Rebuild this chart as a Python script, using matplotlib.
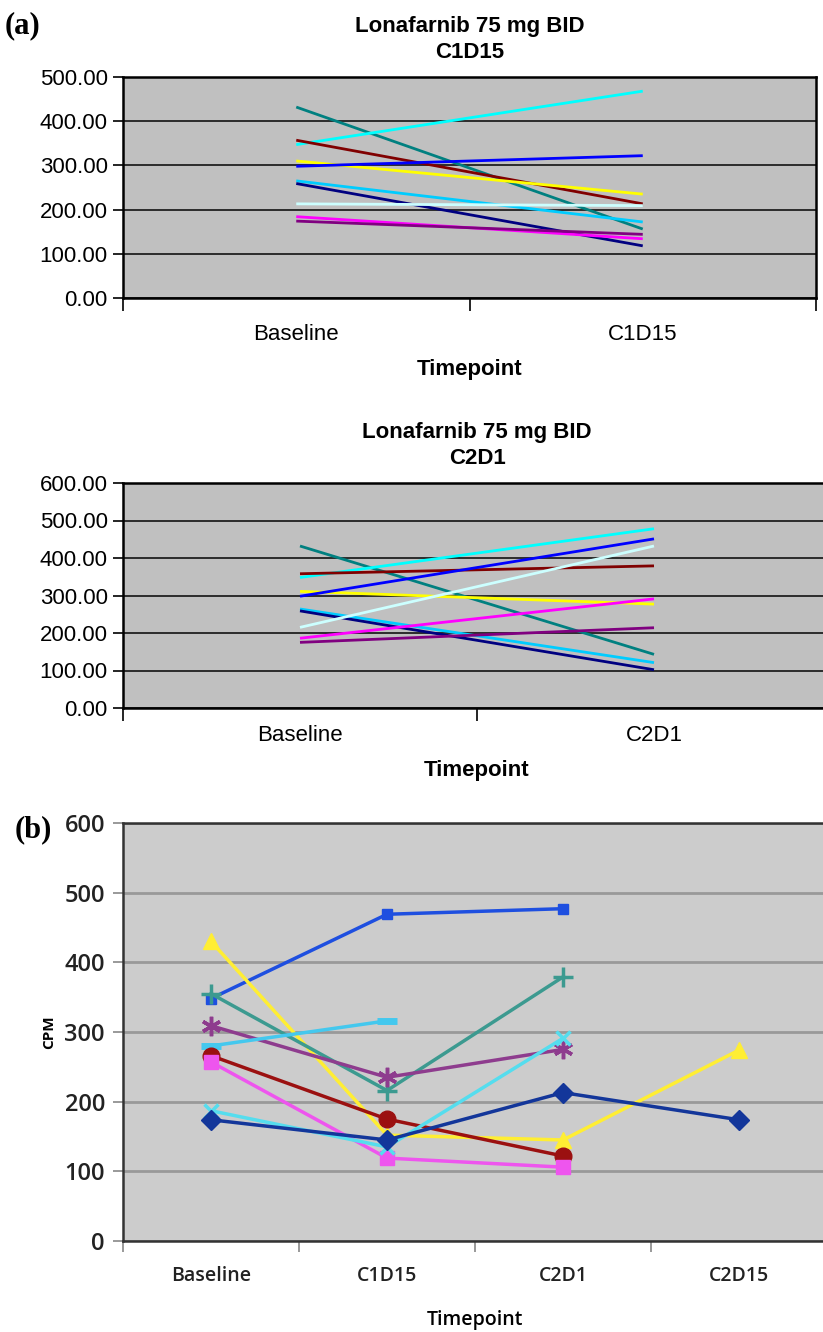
import numpy as np
import matplotlib.pyplot as plt
from matplotlib.ticker import FixedLocator, NullFormatter

nan = np.nan

# panel (a) top: Baseline -> C1D15
a1_cats = ['Baseline', 'C1D15']
a1_base = [432, 347, 357, 310, 298, 265, 259, 213, 184, 174]
a1_end = [156, 468, 213, 235, 322, 172, 118, 209, 134, 144]

# panel (a) bottom: Baseline -> C2D1
a2_cats = ['Baseline', 'C2D1']
a2_base = [432, 348, 358, 311, 298, 264, 259, 215, 186, 175]
a2_end = [143, 478, 379, 277, 451, 121, 102, 432, 291, 214]

a_colors = ['#008080', '#00FFFF', '#800000', '#FFFF00', '#0000FF',
            '#00CCFF', '#000080', '#CCFFFF', '#FF00FF', '#800080']

# panel (b)
b_cats = ['Baseline', 'C1D15', 'C2D1', 'C2D15']
b_blue = [348, 469, 477, nan]
b_yellow = [430, 152, 145, 274]
b_teal = [355, 216, 379, nan]
b_purple = [309, 235, 275, nan]
b_lightblue = [280, 316, nan, nan]
b_darkred = [266, 175, 122, nan]
b_magenta = [257, 119, 106, nan]
b_cyan = [187, 135, 291, nan]
b_navy = [174, 145, 213, 174]

W, H = 823, 1332
fig = plt.figure(figsize=(W / 100, H / 100), dpi=100)


def rect(x0, y0, x1, y1):
    return [x0 / W, 1 - y1 / H, (x1 - x0) / W, (y1 - y0) / H]


def panel_a(ax, cats, base, end, ymax, title, tpad, tipad):
    ax.set_facecolor('#C0C0C0')
    x = np.arange(len(cats))
    for b, e, c in zip(base, end, a_colors):
        ax.plot(x, [b, e], color=c, lw=2.0, solid_capstyle='butt')
    ax.set_xlim(-0.5, len(cats) - 0.5)
    ax.set_ylim(0, ymax)
    ax.set_yticks(np.arange(0, ymax + 1, 100))
    ax.set_yticklabels([f'{v:.2f}' for v in np.arange(0, ymax + 1, 100)],
                       fontsize=16, family='Liberation Sans')
    ax.yaxis.grid(True, color='#202020', lw=1.3)
    ax.set_axisbelow(True)
    ax.xaxis.set_major_locator(FixedLocator([-0.5, 0.5, 1.5]))
    ax.xaxis.set_major_formatter(NullFormatter())
    ax.xaxis.set_minor_locator(FixedLocator(x))
    ax.set_xticklabels(cats, minor=True, fontsize=16, family='Liberation Sans')
    ax.tick_params(axis='x', which='minor', length=0, pad=tpad)
    ax.tick_params(axis='x', which='major', length=9, width=1.2, direction='out')
    ax.tick_params(axis='y', length=7, width=1.2, direction='out', pad=4)
    for s in ax.spines.values():
        s.set_linewidth(1.8)
        s.set_color('black')
    ax.set_xlabel('Timepoint', fontsize=16, fontweight='bold',
                  family='Liberation Sans', labelpad=10)
    ax.set_title(title, fontsize=16, fontweight='bold',
                 family='Liberation Sans', pad=tipad, linespacing=1.3)


ax1 = fig.add_axes(rect(123, 77, 816, 298))
panel_a(ax1, a1_cats, a1_base, a1_end, 500, 'Lonafarnib 75 mg BID\nC1D15', 19, 14)

ax2 = fig.add_axes(rect(123, 483, 831, 708))
panel_a(ax2, a2_cats, a2_base, a2_end, 600, 'Lonafarnib 75 mg BID\nC2D1', 12, 14)

# panel (b)
ax3 = fig.add_axes(rect(123, 823, 827, 1241))
ax3.set_facecolor('#CCCCCC')
xb = np.arange(len(b_cats))
series = [
    (b_blue, '#1E4FE0', 's', 7, 1),
    (b_yellow, '#FFEE33', '^', 12, 1),
    (b_teal, '#3C9A90', '+', 14, 2.5),
    (b_purple, '#8E3C8E', (6, 2, 0), 14, 2.5),
    (b_lightblue, '#44C8EE', '_', 14, 5),
    (b_darkred, '#9B1010', 'o', 12, 1),
    (b_magenta, '#EE55EE', 's', 10, 1),
    (b_cyan, '#55DDEE', 'x', 10, 2.5),
    (b_navy, '#13369A', 'D', 10, 1),
]
for vals, c, m, ms, mew in series:
    ax3.plot(xb, vals, color=c, lw=2.5, marker=m, ms=ms, mew=mew,
             mec=c, mfc=c)
ax3.set_xlim(-0.5, len(b_cats) - 0.5)
ax3.set_ylim(0, 600)
ax3.set_yticks(np.arange(0, 601, 100))
ax3.set_yticklabels([str(v) for v in range(0, 601, 100)], fontsize=17,
                    family='Open Sans', fontweight='semibold', color='#222222')
ax3.yaxis.grid(True, color='#999999', lw=2)
ax3.set_axisbelow(True)
ax3.xaxis.set_major_locator(FixedLocator([-0.5, 0.5, 1.5, 2.5, 3.5]))
ax3.xaxis.set_major_formatter(NullFormatter())
ax3.xaxis.set_minor_locator(FixedLocator(xb))
ax3.set_xticklabels(b_cats, minor=True, fontsize=14, family='Open Sans',
                    fontweight='semibold', color='#222222')
ax3.tick_params(axis='x', which='minor', length=0, pad=18)
ax3.tick_params(axis='x', which='major', length=8, width=1.2, color='#888888')
ax3.tick_params(axis='y', length=7, width=1.2, color='#888888', pad=6)
for s in ax3.spines.values():
    s.set_linewidth(1.8)
    s.set_color('#333333')
ax3.set_ylabel('CPM', fontsize=11, family='Open Sans', fontweight='bold',
               labelpad=6)
ax3.set_xlabel('Timepoint', fontsize=14, family='Open Sans',
               fontweight='semibold', labelpad=17)

fig.text(5 / W, 1 - 26 / H, '(a)', fontsize=22, fontweight='bold',
         family='Liberation Serif', va='center', ha='left')
fig.text(15 / W, 1 - 830 / H, '(b)', fontsize=22, fontweight='bold',
         family='Liberation Serif', va='center', ha='left')

fig.savefig('out.png', dpi=100)
